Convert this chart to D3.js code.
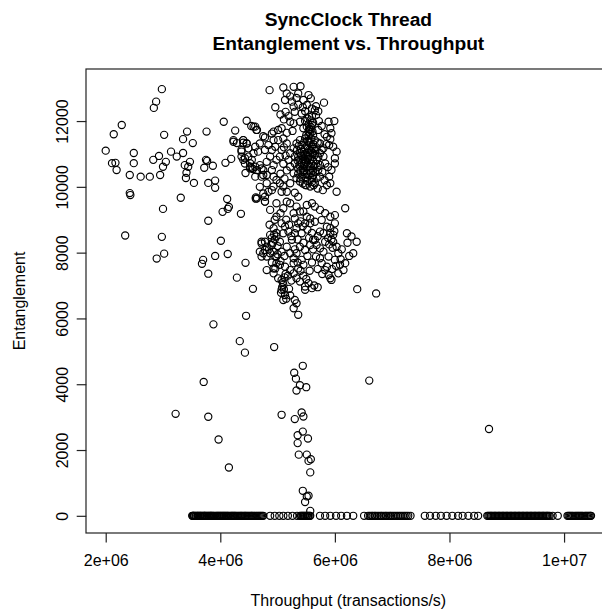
<!DOCTYPE html>
<html><head><meta charset="utf-8">
<script src="https://cdn.jsdelivr.net/npm/d3@7"></script>
<style>
body{margin:0;background:#fff}
svg{display:block}
text{font-family:"Liberation Sans",Arial,Helvetica,sans-serif;fill:#000}
</style></head>
<body><svg id="chart" width="602" height="615"></svg>
<script>
const titleLines = ["SyncClock Thread", "Entanglement vs. Throughput"];
const xLabel = "Throughput (transactions/s)";
const yLabel = "Entanglement";
const xTicks = [2e6, 4e6, 6e6, 8e6, 1e7];
const xTickLabels = ["2e+06", "4e+06", "6e+06", "8e+06", "1e+07"];
const yTicks = [0, 2000, 4000, 6000, 8000, 10000, 12000];
const yTickLabels = ["0", "2000", "4000", "6000", "8000", "10000", "12000"];

// [throughput, entanglement]
const sparsePoints = [
[2.00e6,11100],[2.14e6,11600],[2.28e6,11880],[2.11e6,10720],[2.17e6,10730],[2.19e6,10510],[2.49e6,11030],[2.49e6,10720],
[2.42e6,10360],[2.61e6,10310],[2.77e6,10310],[2.95e6,10360],[2.83e6,10820],[2.93e6,10940],[3.00e6,10610],[3.05e6,10760],
[3.02e6,11580],[2.42e6,9810],[2.43e6,9750],[3.00e6,9330],[2.34e6,8520],[2.98e6,8480],[3.02e6,7970],[2.89e6,7820],
[3.14e6,11070],[3.24e6,10920],[3.35e6,11030],[3.35e6,11450],[3.42e6,11680],[3.52e6,11330],[3.38e6,10660],[3.44e6,10610],
[3.41e6,10430],[3.40e6,10270],[3.47e6,10760],[3.54e6,10120],[3.31e6,9670],[3.76e6,11680],[3.75e6,10820],[3.77e6,10790],
[3.72e6,10580],[3.87e6,10640],[3.79e6,10120],[3.91e6,10190],[3.91e6,9970],[3.79e6,8970],[4.06e6,11980],[4.09e6,10730],
[4.19e6,10850],[4.26e6,11710],[4.23e6,11370],[4.29e6,11330],[4.40e6,11340],[4.12e6,9630],[4.15e6,9390],[4.13e6,9330],
[4.04e6,9240],[4.36e6,9180],[4.01e6,8360],[3.91e6,7900],[4.13e6,7960],[3.70e6,7780],[3.68e6,7660],[3.79e6,7360],
[4.29e6,7240],[4.44e6,7690],[4.57e6,6900],[4.46e6,12010],[4.54e6,11850],[4.61e6,11830],[4.37e6,10920],[4.40e6,10820],
[4.44e6,10420],[4.52e6,10720],[4.55e6,10570],[4.57e6,10540],[4.62e6,9640],[2.98e6,12970],[2.88e6,12590],[2.84e6,12400],
[4.58e6,11830],[4.64e6,11730],[4.78e6,11500],[4.90e6,11620],[4.23e6,11420],[4.40e6,11420],[4.46e6,11320],[4.37e6,11120],
[4.49e6,11170],[4.58e6,11020],[4.43e6,10870],[4.52e6,10610],[4.64e6,10510],[4.72e6,10560],[4.75e6,10360],[4.61e6,10310],
[4.69e6,10000],[4.81e6,10110],[4.90e6,9900],[4.78e6,9700],[4.64e6,9650],[4.78e6,9550],[4.98e6,9500],[4.87e6,9300],[4.98e6,9090]
];

const outlierPoints = [
[3.88e6,5820],[4.45e6,6080],[4.34e6,5310],[4.43e6,4960],[4.94e6,5130],[3.71e6,4070],[6.60e6,4110],[3.22e6,3100],
[3.79e6,3010],[5.07e6,3070],[3.97e6,2320],[4.15e6,1470],[8.69e6,2640],[6.39e6,6890],[6.72e6,6760],
[5.44e6,4560],[5.29e6,4350],[5.32e6,4170],[5.39e6,3970],[5.50e6,3910],[5.33e6,3810],[5.42e6,3140],[5.45e6,3020],
[5.30e6,2940],[5.44e6,2560],[5.35e6,2450],[5.53e6,2350],[5.35e6,2210],[5.37e6,1860],[5.51e6,1860],[5.54e6,1670],
[5.58e6,1720],[5.57e6,1320],[5.44e6,760],[5.51e6,590],[5.54e6,610],[5.48e6,420],[5.57e6,150]
];

const upperCluster = [
[4.86e6,12940],[5.10e6,13020],[5.28e6,13040],[5.40e6,13060],[5.16e6,12840],[5.36e6,12840],[5.54e6,12790],[5.58e6,12690],
[4.96e6,12420],[5.13e6,12640],[5.25e6,12590],[5.28e6,12440],[5.45e6,12640],[5.51e6,12490],[5.60e6,12380],[5.65e6,12330],
[5.81e6,12560],[5.14e6,12280],[5.30e6,12280],[5.42e6,12230],[5.55e6,12130],[5.67e6,12180],[4.63e6,11730],[4.75e6,11540],
[4.93e6,11680],[5.01e6,11730],[5.07e6,11780],[5.22e6,11980],[5.28e6,11930],[5.39e6,11980],[5.51e6,11830],[5.57e6,11730],
[5.62e6,11570],[5.71e6,11730],[5.89e6,11980],[5.99e6,12000],[5.92e6,11780],[5.94e6,11630],[5.86e6,11520],[5.90e6,11270],
[5.97e6,11220],[6.03e6,11070],[6.00e6,10870],[6.00e6,10710],[5.94e6,10510],[5.90e6,10310],[5.92e6,10110],[6.03e6,9850],
[5.74e6,11320],[5.77e6,11120],[5.80e6,10920],[5.83e6,10710],[5.71e6,10510],[5.74e6,10310],[5.65e6,10110],[5.57e6,10010],
[5.48e6,10060],[5.39e6,10160],[5.33e6,10260],[5.28e6,10410],[5.22e6,10610],[5.19e6,10820],[5.22e6,11020],[5.28e6,11170],
[5.33e6,11320],[5.39e6,11420],[5.48e6,11470],[5.54e6,11370],[5.60e6,11220],[5.62e6,11020],[5.54e6,10920],[5.48e6,10820],
[5.42e6,10710],[5.51e6,10610],[5.57e6,10510],[5.62e6,10360],[5.45e6,10460],[5.36e6,10560],[5.30e6,10710],[5.36e6,10920],
[5.42e6,11070],[5.48e6,11170],[5.39e6,11020],[5.45e6,11780],[5.54e6,11680],[5.60e6,11880],[5.50e6,11570],[5.58e6,11470],
[5.65e6,11420],[5.42e6,11270],[5.51e6,11240],[5.68e6,11200],[5.45e6,10920],[5.57e6,10820],[5.68e6,10820],[5.74e6,10660],
[5.51e6,10410],[5.60e6,10260],[5.42e6,10310],[5.68e6,10260],[5.38e6,10820],[5.64e6,10630],[5.46e6,10630],[5.55e6,11120],
[5.65e6,10970],[5.34e6,11120],[5.30e6,10920],[5.74e6,11020],[5.80e6,11170],
[4.40e6,11420],[4.46e6,11320],[4.37e6,11070],[4.49e6,10920],[4.43e6,10710],[4.55e6,10820],[4.52e6,10560],[4.61e6,10610],
[4.69e6,10660],[4.75e6,10510],[4.72e6,10310],[4.81e6,10360],[4.90e6,10510],[4.93e6,10660],[4.98e6,10820],[5.04e6,10920],
[5.07e6,11120],[4.96e6,11220],[4.90e6,11120],[5.01e6,11420],[5.10e6,11470],[5.16e6,11320],[4.93e6,11420],[4.84e6,11270],
[4.78e6,11120],[4.87e6,10920],[4.81e6,10760],[4.66e6,11070],[4.61e6,11220],[4.69e6,11320],[4.93e6,10310],[4.98e6,10210],
[5.04e6,10110],[5.10e6,10010],[5.07e6,9850],[4.93e6,10010],[4.84e6,9850],[4.75e6,9800],[4.62e6,9680],[4.78e6,9550],
[5.16e6,9850],[5.22e6,10110],[5.30e6,9820],[5.36e6,9700],[5.22e6,9500],[5.16e6,9550],[5.33e6,9400],[5.39e6,9250],
[5.51e6,9450],[5.60e6,9500],[5.65e6,9400],[5.74e6,9300],[5.83e6,9200],[5.92e6,9090],[6.00e6,9140],[6.18e6,9350]
];

const upperCore = [
[5.40e6,10500],[5.44e6,10560],[5.47e6,10700],[5.50e6,10750],[5.53e6,10680],[5.56e6,10620],[5.59e6,10700],[5.62e6,10800],
[5.44e6,10850],[5.41e6,10950],[5.47e6,11000],[5.52e6,11050],[5.56e6,10980],[5.60e6,11050],[5.63e6,11150],[5.58e6,11100],
[5.50e6,10950],[5.53e6,10850],[5.45e6,10380],[5.49e6,10300],[5.54e6,10350],[5.58e6,10420],[5.62e6,10500],[5.66e6,10450],
[5.70e6,10600],[5.67e6,10700],[5.71e6,10900],[5.66e6,11100],[5.70e6,11350],[5.62e6,11300],[5.56e6,11350],[5.52e6,11400],
[5.46e6,11350],[5.41e6,11150],[5.37e6,11250],[5.35e6,10800],[5.38e6,10650],[5.36e6,10400],[5.40e6,10250],[5.52e6,10180],
[5.60e6,10150],[5.63e6,10050],[5.50e6,10050],[5.44e6,10100],[5.54e6,11560],[5.57e6,11620],[5.61e6,11680],[5.55e6,11760],
[5.58e6,11820],[5.62e6,11950],[5.54e6,11900],[5.48e6,12000],[5.52e6,12080],[5.57e6,12020],[5.60e6,12150],[5.48e6,12300],
[5.44e6,12420],[5.36e6,12500],[5.33e6,12700],[5.22e6,12750],[5.19e6,12150],[5.11e6,12050],[5.05e6,12200],[5.26e6,11700],
[5.16e6,11640],[5.11e6,11200],[5.14e6,10950],[5.10e6,10700],[5.16e6,10500],[5.05e6,10400],[5.12e6,10250],[5.78e6,10450],
[5.82e6,10200],[5.86e6,10050],[5.79e6,9900],[5.70e6,9950],[5.88e6,10600],[5.85e6,11300],[5.92e6,11450],[5.82e6,11600],
[5.77e6,11850],[5.72e6,12000],[5.67e6,12450],[5.71e6,12300]
];

const lowerCluster = [
[5.45e6,9250],[5.51e6,9090],[5.57e6,9040],[5.28e6,9200],[5.30e6,9040],[5.36e6,8890],[5.48e6,8890],[5.57e6,8890],
[5.65e6,8940],[5.77e6,8990],[5.86e6,8790],[5.92e6,8590],[5.97e6,8540],[6.00e6,8890],[5.97e6,8330],[6.03e6,8180],
[6.06e6,7980],[6.00e6,7780],[6.09e6,7630],[6.15e6,7470],[6.06e6,7370],[5.94e6,7170],[5.92e6,7220],[5.86e6,7570],
[5.89e6,7880],[5.80e6,8030],[5.74e6,7830],[5.83e6,8330],[5.80e6,8590],[5.74e6,8640],[5.65e6,8390],[5.57e6,8230],
[5.48e6,8080],[5.42e6,8590],[5.33e6,8740],[5.30e6,8590],[5.25e6,8390],[5.19e6,8640],[5.13e6,8790],[5.07e6,8890],
[5.10e6,8590],[5.04e6,8330],[4.93e6,8740],[4.87e6,8540],[4.98e6,8490],[4.90e6,8230],[4.78e6,8330],[4.72e6,8280],
[4.69e6,8030],[4.75e6,7980],[4.81e6,7880],[4.93e6,8030],[4.98e6,7880],[5.07e6,8030],[5.16e6,8180],[5.22e6,7980],
[5.28e6,7830],[5.33e6,7980],[5.39e6,8180],[5.42e6,7780],[5.45e6,7630],[5.36e6,7520],[5.28e6,7680],[5.22e6,7470],
[5.13e6,7570],[5.04e6,7630],[4.96e6,7520],[4.93e6,7370],[5.01e6,7220],[5.07e6,7170],[5.10e6,7020],[5.07e6,6870],
[5.13e6,6710],[5.10e6,6560],[5.28e6,7370],[5.33e6,7220],[5.39e6,7120],[5.48e6,6970],[5.54e6,7070],[5.60e6,6920],
[5.48e6,6870],[5.30e6,6560],[5.28e6,6310],[5.36e6,6110],[5.33e6,6460],[5.62e6,8390],[5.68e6,8230],[5.74e6,8130],
[5.67e6,7880],[5.77e6,7680],[5.83e6,7470],[5.89e6,7320],[6.18e6,7680],[6.21e6,8590],[6.29e6,8490],[6.38e6,8330],
[6.32e6,7980],[4.72e6,8330],[4.81e6,8180],[4.87e6,7980],[4.96e6,7880],[4.78e6,8080],[4.72e6,7880],[4.98e6,7680],
[4.93e6,7520],[4.81e6,7470]
];

const lowerCore = [
[4.92e6,8300],[4.95e6,8400],[4.98e6,8600],[4.94e6,8550],[5.00e6,8200],[4.90e6,8450],[5.08e6,6950],[5.11e6,6880],
[5.09e6,7100],[5.12e6,7250],[5.06e6,6780],[5.14e6,7350],[5.90e6,8250],[5.94e6,8400],[5.96e6,8150],[5.88e6,8450],
[5.99e6,8650],[5.92e6,8750],[5.40e6,8950],[5.44e6,8800],[5.52e6,8700],[5.60e6,8600],[5.70e6,8500],[5.20e6,8850],
[5.15e6,9000],[5.24e6,8500],[5.35e6,8400],[5.45e6,8300],[5.55e6,8450],[5.62e6,8100],[5.52e6,7900],[5.60e6,7700],
[5.70e6,7500],[5.78e6,7350],[5.95e6,7500],[6.02e6,7600],[6.10e6,7800],[6.12e6,8100],[6.22e6,8300],[6.25e6,7900],
[5.18e6,7300],[5.24e6,7150],[5.20e6,6900],[5.15e6,6600],[5.22e6,6700],[4.85e6,8100],[4.90e6,7700],[5.00e6,7950],
[5.05e6,7750],[5.12e6,7900],[5.30e6,8100],[5.35e6,7700],[5.40e6,7450],[5.45e6,7300],[5.50e6,7200],[5.56e6,7450],
[5.64e6,7000],[5.70e6,6950],[4.86e6,8850],[4.95e6,9000],[5.05e6,9200],[5.10e6,9350]
];

// points lying on entanglement = 0
const zeroRowThroughput = [
3.51e6,3.52e6,3.53e6,3.54e6,3.55e6,3.57e6,3.58e6,3.60e6,3.61e6,3.62e6,3.64e6,3.65e6,3.66e6,3.68e6,3.69e6,3.71e6,
3.72e6,3.73e6,3.74e6,3.76e6,3.77e6,3.79e6,3.80e6,3.82e6,3.83e6,3.84e6,3.85e6,3.87e6,3.88e6,3.90e6,3.92e6,3.94e6,
3.95e6,3.97e6,3.98e6,4.00e6,4.01e6,4.03e6,4.04e6,4.06e6,4.07e6,4.09e6,4.10e6,4.12e6,4.13e6,4.15e6,4.17e6,4.19e6,
4.20e6,4.22e6,4.23e6,4.25e6,4.26e6,4.28e6,4.30e6,4.32e6,4.34e6,4.36e6,4.37e6,4.39e6,4.41e6,4.43e6,4.44e6,4.46e6,
4.48e6,4.50e6,4.52e6,4.54e6,4.55e6,4.57e6,4.59e6,4.61e6,4.63e6,4.65e6,4.67e6,4.69e6,4.71e6,4.73e6,4.75e6,
4.87e6,4.95e6,5.03e6,5.10e6,5.18e6,5.26e6,5.34e6,5.39e6,5.41e6,5.42e6,5.44e6,5.45e6,5.47e6,5.48e6,5.50e6,5.51e6,
5.53e6,5.54e6,5.56e6,5.57e6,
5.74e6,5.83e6,5.92e6,6.02e6,6.11e6,6.21e6,6.32e6,
6.51e6,6.58e6,6.61e6,6.64e6,6.66e6,6.69e6,6.71e6,6.74e6,6.77e6,6.80e6,6.82e6,6.85e6,6.88e6,6.90e6,6.93e6,6.96e6,
6.98e6,7.01e6,7.04e6,7.07e6,7.10e6,7.13e6,7.16e6,7.19e6,7.22e6,7.25e6,7.28e6,7.32e6,
7.57e6,7.66e6,7.76e6,7.85e6,7.95e6,8.05e6,8.15e6,8.23e6,8.33e6,8.43e6,8.50e6,
8.66e6,8.68e6,8.70e6,8.72e6,8.73e6,8.75e6,8.77e6,8.79e6,8.80e6,8.82e6,8.84e6,8.86e6,8.87e6,8.89e6,8.91e6,8.93e6,
8.94e6,8.96e6,8.98e6,9.00e6,9.01e6,9.03e6,9.05e6,9.07e6,9.08e6,9.10e6,9.12e6,9.14e6,9.15e6,9.17e6,9.19e6,9.21e6,
9.22e6,9.24e6,9.26e6,9.28e6,9.29e6,9.31e6,9.33e6,9.35e6,9.36e6,9.38e6,9.40e6,9.42e6,9.43e6,9.45e6,9.47e6,9.49e6,
9.50e6,9.52e6,9.54e6,9.56e6,9.57e6,9.59e6,9.61e6,9.63e6,9.64e6,9.66e6,9.68e6,9.70e6,9.71e6,9.73e6,9.75e6,
9.80e6,9.89e6,
10.06e6,10.08e6,10.10e6,10.12e6,10.14e6,10.16e6,10.19e6,10.21e6,10.23e6,10.25e6,10.27e6,10.29e6,10.31e6,10.33e6,
10.36e6,10.38e6,10.40e6,10.42e6,10.44e6,10.46e6,10.47e6
];

const points = [].concat(sparsePoints, outlierPoints, upperCluster, upperCore, lowerCluster, lowerCore,
  zeroRowThroughput.map(t => [t, 0]));

const plot = {left: 86.3, right: 610.4, top: 69, bottom: 533};

const xExt = d3.extent(points, d => d[0]);
const yExt = d3.extent(points, d => d[1]);
const xPad = (xExt[1] - xExt[0]) * 0.04, yPad = (yExt[1] - yExt[0]) * 0.04;
const x = d3.scaleLinear().domain([xExt[0] - xPad, xExt[1] + xPad]).range([plot.left, plot.right]);
const y = d3.scaleLinear().domain([yExt[0] - yPad, yExt[1] + yPad]).range([plot.bottom, plot.top]);

const svg = d3.select("#chart");
svg.append("rect").attr("width", 602).attr("height", 615).attr("fill", "#fff");

// points
svg.append("g").selectAll("circle").data(points).join("circle")
  .attr("cx", d => x(d[0])).attr("cy", d => y(d[1])).attr("r", 3.6)
  .attr("fill", "none").attr("stroke", "#000").attr("stroke-width", 1.15);

// box
svg.append("rect").attr("x", 86).attr("y", 69).attr("width", 524).attr("height", 464)
  .attr("fill", "none").attr("stroke", "#222").attr("stroke-width", 1.2);

// x axis
const xAxis = svg.append("g").attr("transform", `translate(0,${plot.bottom})`)
  .call(d3.axisBottom(x).tickValues(xTicks).tickFormat((d, i) => xTickLabels[i]).tickSize(9.6).tickPadding(10));
xAxis.select(".domain").remove();
xAxis.selectAll(".tick line").attr("stroke", "#222").attr("stroke-width", 1.2);
xAxis.selectAll(".tick text").attr("font-size", 16).attr("font-family", "Liberation Sans, Arial, sans-serif")
  .attr("y", 33).attr("dy", 0).attr("fill", "#000");

// y axis
const yAxis = svg.append("g").attr("transform", `translate(${plot.left},0)`)
  .call(d3.axisLeft(y).tickValues(yTicks).tickFormat((d, i) => yTickLabels[i]).tickSize(9.6));
yAxis.select(".domain").remove();
yAxis.selectAll(".tick line").attr("stroke", "#222").attr("stroke-width", 1.2);
yAxis.selectAll(".tick text").attr("font-size", 16).attr("font-family", "Liberation Sans, Arial, sans-serif")
  .attr("transform", "rotate(-90)").attr("x", 0).attr("y", -18).attr("dy", 0)
  .attr("text-anchor", "middle").attr("fill", "#000");

const cx = (plot.left + plot.right) / 2;
// titles
svg.append("text").attr("x", cx).attr("y", 26).attr("text-anchor", "middle")
  .attr("font-size", 19.2).attr("font-weight", "bold").text(titleLines[0]);
svg.append("text").attr("x", cx).attr("y", 50).attr("text-anchor", "middle")
  .attr("font-size", 19.2).attr("font-weight", "bold").text(titleLines[1]);
// axis labels
svg.append("text").attr("x", cx).attr("y", 606).attr("text-anchor", "middle")
  .attr("font-size", 16).text(xLabel);
svg.append("text").attr("transform", `translate(25,${(plot.top + plot.bottom) / 2}) rotate(-90)`)
  .attr("text-anchor", "middle").attr("font-size", 16).text(yLabel);
</script></body></html>
